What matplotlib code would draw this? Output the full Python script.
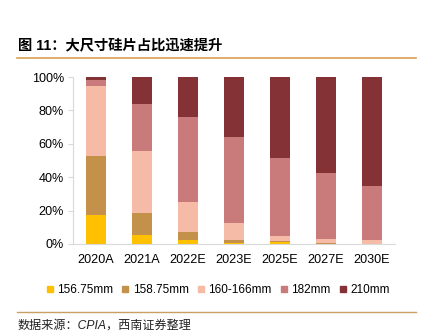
import matplotlib
matplotlib.use("Agg")
import matplotlib.pyplot as plt
from matplotlib.lines import Line2D
import numpy as np

categories = ["2020A", "2021A", "2022E", "2023E", "2025E", "2027E", "2030E"]
series_names = ["156.75mm", "158.75mm", "160-166mm", "182mm", "210mm"]
s156 = [17.3, 5.2, 2.2, 0.8, 1.0, 0.0, 0.0]
s158 = [35.3, 13.3, 4.8, 1.8, 0.8, 0.8, 0.0]
s160 = [42.0, 37.1, 18.3, 9.8, 3.2, 2.2, 2.2]
s182 = [3.8, 28.3, 50.6, 51.9, 46.4, 39.6, 32.5]
s210 = [1.6, 16.1, 24.1, 35.7, 48.6, 57.4, 65.3]
colors = ["#FFC000", "#C4914A", "#F5BBA6", "#C97B7B", "#843235"]
yticks = [0, 20, 40, 60, 80, 100]
ytick_labels = ["0%", "20%", "40%", "60%", "80%", "100%"]

W, H = 422, 335
fig = plt.figure(figsize=(W / 100, H / 100), dpi=100)
ax = fig.add_axes([73 / W, 1 - 244 / H, (395 - 73) / W, (244 - 77) / H])

x = np.arange(len(categories))
bottom = np.zeros(len(categories))
for vals, name, c in zip([s156, s158, s160, s182, s210], series_names, colors):
    v = np.array(vals)
    ax.bar(x, v, 0.43, bottom=bottom, color=c, label=name, linewidth=0)
    bottom += v

ax.set_xlim(-0.5, len(categories) - 0.5)
ax.set_ylim(0, 100)
ax.set_yticks(yticks)
ax.set_yticklabels(ytick_labels, fontfamily="Liberation Sans", fontsize=9.1)
ax.set_xticks(x)
ax.set_xticklabels(categories, fontfamily="Liberation Sans", fontsize=9.1)
ax.tick_params(axis="x", length=0, pad=7.5)
ax.tick_params(axis="y", length=3.6, width=0.8, color="#D9D9D9", pad=3)
for s in ["top", "right"]:
    ax.spines[s].set_visible(False)
for s in ["left", "bottom"]:
    ax.spines[s].set_color("#D9D9D9")
    ax.spines[s].set_linewidth(0.8)

handles = [Line2D([], [], marker="s", linestyle="none", markersize=5,
                  markerfacecolor=c, markeredgecolor=c) for c in colors]
fig.legend(handles, series_names, loc="center", bbox_to_anchor=(218 / W, 1 - 290 / H),
           ncol=5, frameon=False, handlelength=0.6, handletextpad=0.35,
           columnspacing=0.7, prop={"family": "Liberation Sans", "size": 8.5},
           borderaxespad=0, borderpad=0)

title_fam = ["Liberation Sans", "Noto Sans CJK SC"]
fig.text(18 / W, 1 - 45 / H, "图 11：大尺寸硅片占比迅速提升", fontfamily=title_fam,
         fontsize=10.3, fontweight="bold", va="center", ha="left")
fig.add_artist(Line2D([17 / W, 416 / W], [1 - 58 / H, 1 - 58 / H],
                      color="#D9A050", linewidth=1.2, transform=fig.transFigure))
fig.add_artist(Line2D([17 / W, 416 / W], [1 - 311.5 / H, 1 - 311.5 / H],
                      color="#C9A063", linewidth=1.0, transform=fig.transFigure))
fig.text(18 / W, 1 - 326 / H, "数据来源：CPIA，西南证券整理", fontfamily=title_fam,
         fontsize=8.7, style="italic", va="center", ha="left", color="#222222")

fig.savefig("out.png", dpi=100)
